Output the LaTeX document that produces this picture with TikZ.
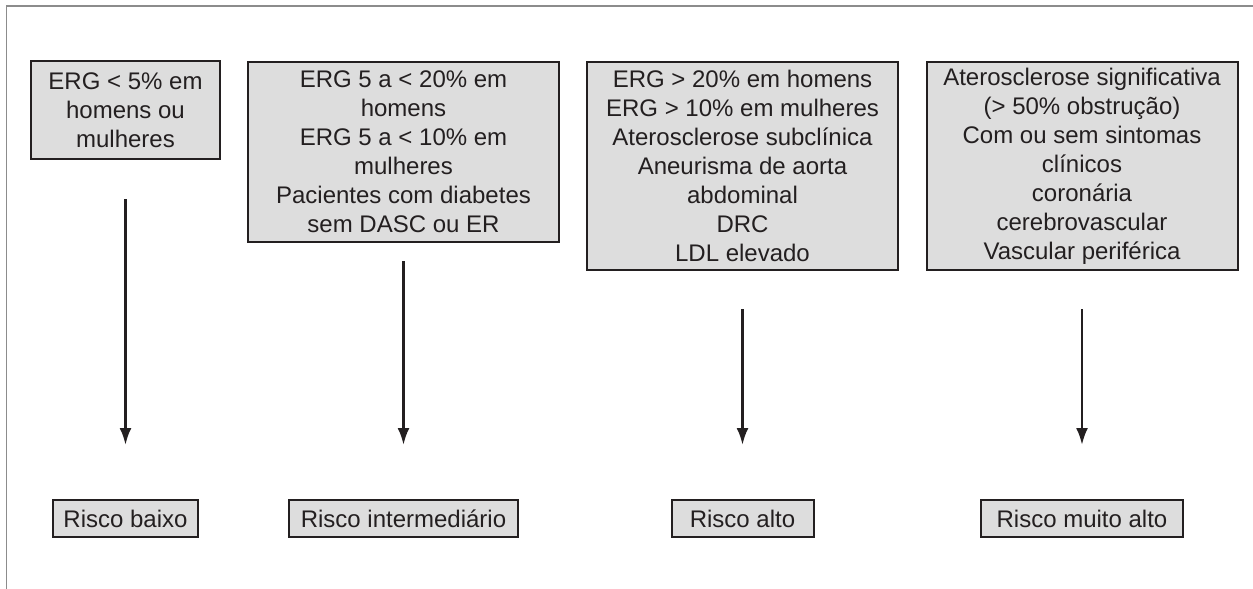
\documentclass[tikz,border=0pt]{standalone}
\usepackage{fontspec}
\setmainfont{Liberation Sans}
\usetikzlibrary{arrows.meta}
\definecolor{boxgray}{RGB}{221,221,221}
\definecolor{ink}{RGB}{35,31,32}

\begin{document}
\begin{tikzpicture}[x=1pt,y=-1pt,font=\fontsize{24}{29}\selectfont]
\tikzstyle{crit}=[rectangle,draw=ink,line width=2pt,fill=boxgray,text=ink,align=center,inner sep=0pt,minimum width=311pt]
\tikzstyle{risk}=[crit,minimum height=37pt]
\tikzstyle{seta}=[-{Latex[length=17pt,width=12pt]},line width=2.6pt,draw=ink]
\useasboundingbox (0,0) rectangle (1253,589);
\draw[gray!90,line width=1.3pt] (6.5,589) -- (6.5,6) -- (1253,6);

\node[crit,minimum width=189pt,minimum height=98pt](L) at (125.5,110) {ERG < 5\% em\\homens ou\\mulheres};
\node[crit,minimum height=180pt](I) at (403.5,152) {ERG 5 a < 20\% em\\homens\\ERG 5 a < 10\% em\\mulheres\\Pacientes com diabetes\\sem DASC ou ER};
\node[crit,minimum height=208pt](A) at (742.5,166) {ERG > 20\% em homens\\ERG > 10\% em mulheres\\Aterosclerose subclínica\\Aneurisma de aorta\\abdominal\\DRC\\LDL elevado};
\node[crit,minimum height=208pt](M) at (1082,166) {Aterosclerose significativa\\(> 50\% obstrução)\\Com ou sem sintomas\\clínicos\\coronária\\cerebrovascular\\Vascular periférica};

\node[risk,minimum width=145pt](RL) at (125.5,518.5) {Risco baixo};
\node[risk,minimum width=229pt](RI) at (403.5,518.5) {Risco intermediário};
\node[risk,minimum width=142pt](RA) at (742.5,518.5) {Risco alto};
\node[risk,minimum width=202pt](RM) at (1082,518.5) {Risco muito alto};

\draw[seta,shorten <=39pt,shorten >=54pt] (L) -- (RL);
\draw[seta,shorten <=18pt,shorten >=54pt] (I) -- (RI);
\draw[seta,shorten <=38pt,shorten >=54pt] (A) -- (RA);
\draw[seta,shorten <=38pt,shorten >=54pt] (M) -- (RM);
\end{tikzpicture}
\end{document}
